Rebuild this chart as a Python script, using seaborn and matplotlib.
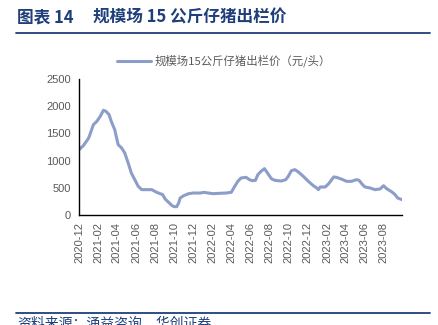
import matplotlib
matplotlib.use("Agg")
import matplotlib.pyplot as plt
import matplotlib.dates as mdates
import seaborn as sns
import pandas as pd
from matplotlib.lines import Line2D

dates = [
    "2020-12-01", "2020-12-15", "2021-01-01", "2021-01-16", "2021-01-27",
    "2021-02-07", "2021-02-17", "2021-02-25", "2021-03-07", "2021-03-14",
    "2021-03-25", "2021-04-05", "2021-04-16", "2021-04-26", "2021-05-07",
    "2021-05-17", "2021-05-28", "2021-06-08", "2021-06-19", "2021-07-21",
    "2021-08-06", "2021-08-17", "2021-08-25", "2021-09-02", "2021-09-13",
    "2021-09-24", "2021-10-01", "2021-10-09", "2021-10-15", "2021-10-20",
    "2021-10-31", "2021-11-16", "2021-12-01", "2021-12-24", "2022-01-03",
    "2022-02-01", "2022-03-15", "2022-04-01", "2022-04-12", "2022-04-22",
    "2022-05-02", "2022-05-18", "2022-05-29", "2022-06-07", "2022-06-17",
    "2022-06-25", "2022-07-05", "2022-07-16", "2022-07-27", "2022-08-07",
    "2022-08-18", "2022-09-08", "2022-09-22", "2022-09-30", "2022-10-10",
    "2022-10-21", "2022-11-01", "2022-11-17", "2022-12-03", "2022-12-19",
    "2022-12-30", "2023-01-04", "2023-01-10", "2023-01-26", "2023-02-06",
    "2023-02-22", "2023-03-02", "2023-03-18", "2023-04-04", "2023-04-20",
    "2023-05-06", "2023-05-14", "2023-05-25", "2023-06-02", "2023-06-18",
    "2023-07-04", "2023-07-20", "2023-07-31", "2023-08-10", "2023-08-27",
    "2023-09-06", "2023-09-14", "2023-09-28",
]
prices = [
    1200, 1275, 1416, 1661, 1722,
    1815, 1925, 1906, 1845, 1722,
    1569, 1293, 1232, 1140, 956,
    772, 650, 527, 466, 466,
    417, 392, 374, 294, 233,
    172, 153, 153, 220, 313,
    355, 392, 404, 404, 417,
    392, 404, 417, 527, 619,
    680, 693, 650, 631, 637,
    742, 803, 852, 760, 668,
    637, 625, 650, 711, 815,
    834, 791, 711, 619, 539,
    497, 466, 515, 515, 576,
    699, 693, 662, 619, 619,
    650, 637, 558, 515, 497,
    466, 478, 539, 484, 423,
    374, 313, 282,
]
series_label = "规模场15公斤仔猪出栏价（元/头）"
title_num = "图表 14"
title_text = "规模场 15 公斤仔猪出栏价"
source_text = "资料来源：涌益咨询，华创证券"
yticks = [0, 500, 1000, 1500, 2000, 2500]

df = pd.DataFrame({"date": pd.to_datetime(dates), "price": prices})

sns.set_style("white")
plt.rcParams["font.family"] = ["Liberation Sans", "Noto Sans CJK SC", "DejaVu Sans"]

line_color = "#8C9DCA"
blue = "#1F3F7A"
grey = "#595959"

fig = plt.figure(figsize=(4.38, 3.25), dpi=100)
ax = fig.add_axes([79 / 438, 1 - 215 / 325, (402 - 79) / 438, (215 - 79) / 325])

sns.lineplot(data=df, x="date", y="price", ax=ax, color=line_color, linewidth=2.2, legend=False)

ax.set_xlim(pd.Timestamp("2020-12-01"), pd.Timestamp("2023-09-28"))
ax.set_ylim(0, 2500)
ax.set_yticks(yticks)
ax.xaxis.set_major_locator(mdates.MonthLocator(bymonth=[2, 4, 6, 8, 10, 12]))
ax.xaxis.set_major_formatter(mdates.DateFormatter("%Y-%m"))
ax.set_xlabel("")
ax.set_ylabel("")
for lab in ax.get_xticklabels():
    lab.set_rotation(90)
ax.tick_params(axis="x", direction="in", length=3, width=0.8, colors="black",
               labelcolor=grey, labelsize=8, pad=5)
ax.tick_params(axis="y", direction="in", length=3, width=0.8, colors="black",
               labelcolor=grey, labelsize=8, pad=6)
ax.grid(False)
for s in ["top", "right"]:
    ax.spines[s].set_visible(False)
for s in ["left", "bottom"]:
    ax.spines[s].set_color("black")
    ax.spines[s].set_linewidth(1.0)

# legend
handle = Line2D([0], [0], color=line_color, linewidth=2.2)
fig.legend([handle], [series_label], loc="center", bbox_to_anchor=(224 / 438, 1 - 61 / 325),
           frameon=False, handlelength=3.0, handletextpad=0.3,
           labelcolor=grey, prop={"family": ["Noto Sans CJK SC"], "size": 8.2})

# title
fig.text(17 / 438, 1 - 18 / 325, title_num, fontsize=12, fontweight="bold",
         color=blue, va="center", ha="left", family=["Noto Sans CJK SC"])
fig.text(93 / 438, 1 - 18 / 325, title_text, fontsize=12, fontweight="bold",
         color=blue, va="center", ha="left", family=["Noto Sans CJK SC"])
fig.add_artist(Line2D([16 / 438, 430 / 438], [1 - 33 / 325, 1 - 33 / 325],
                      color=blue, linewidth=1.3))
fig.add_artist(Line2D([16 / 438, 430 / 438], [1 - 312.5 / 325, 1 - 312.5 / 325],
                      color=blue, linewidth=1.3))
fig.text(17 / 438, 1 - 316 / 325, source_text, fontsize=10, color=blue,
         va="top", ha="left", family=["Noto Sans CJK SC"], style="italic")

fig.savefig("out.png", dpi=100)
